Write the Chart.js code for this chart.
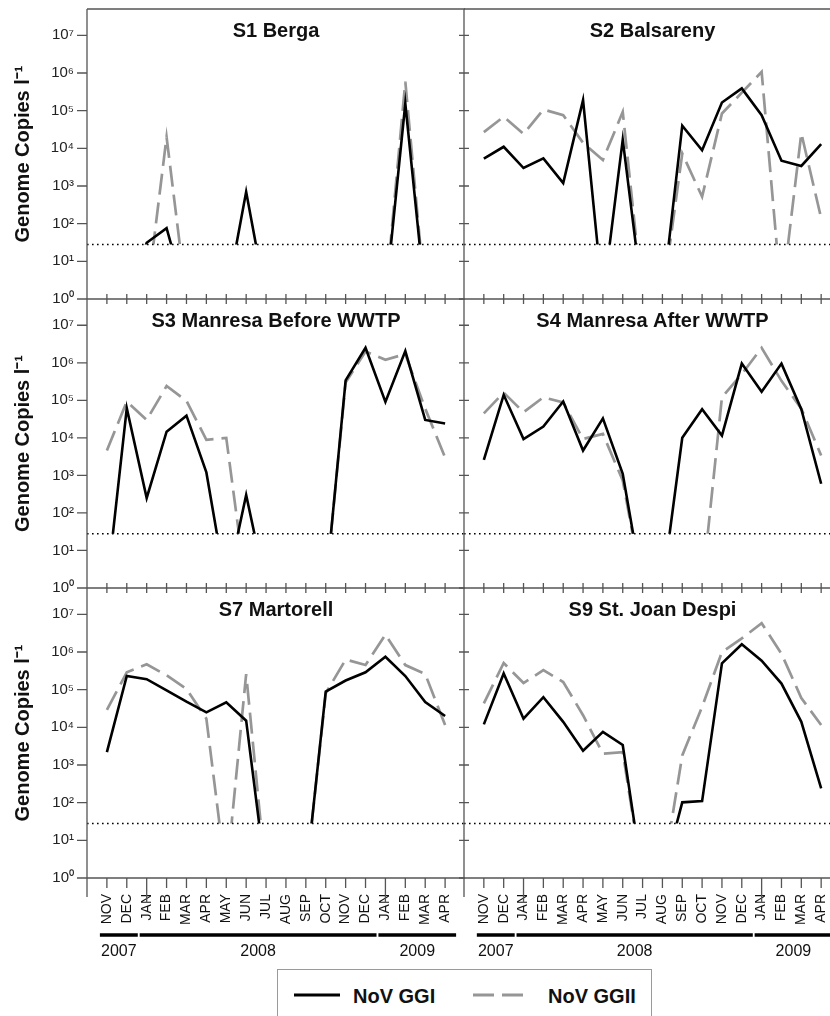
<!DOCTYPE html>
<html>
<head>
<meta charset="utf-8">
<script src="https://cdn.jsdelivr.net/npm/chart.js@4.4.0/dist/chart.umd.min.js"></script>
<style>
  html, body { margin: 0; padding: 0; background: #fff; overflow: hidden; }
  #page { position: relative; width: 830px; height: 1016px; overflow: hidden; background: #fff; }
  #page canvas { position: absolute; }
  #legend { position: absolute; left: 277px; top: 969px; width: 373px; height: 70px; border: 1px solid #9a9a9a; background: #fff; }
  #legend svg { position: absolute; left: 0; top: 0; }
  .lbl { position: absolute; top: 15px; line-height: 20px; font: bold 20px "Liberation Sans", Arial, sans-serif; color: #111; white-space: nowrap; }
</style>
</head>
<body>
<div id="page">
  <canvas id="s1"></canvas>
  <canvas id="s2"></canvas>
  <canvas id="s3"></canvas>
  <canvas id="s4"></canvas>
  <canvas id="s7"></canvas>
  <canvas id="s9"></canvas>
  <div id="legend">
    <svg width="373" height="60">
      <line x1="16" y1="25" x2="62" y2="25" stroke="#000" stroke-width="3"/>
      <line x1="195" y1="25" x2="245" y2="25" stroke="#969696" stroke-width="3" stroke-dasharray="21 8"/>
    </svg>
    <span class="lbl" style="left:75px">NoV GGI</span>
    <span class="lbl" style="left:270px">NoV GGII</span>
  </div>
</div>
<script>
const months = ['NOV', 'DEC', 'JAN', 'FEB', 'MAR', 'APR', 'MAY', 'JUN', 'JUL', 'AUG', 'SEP', 'OCT', 'NOV', 'DEC', 'JAN', 'FEB', 'MAR', 'APR'];
const monthYear = [2007, 2007, 2008, 2008, 2008, 2008, 2008, 2008, 2008, 2008, 2008, 2008, 2008, 2008, 2009, 2009, 2009, 2009];
const yTickValues = [1, 10, 100, 1e3, 1e4, 1e5, 1e6, 1e7];
const yTickLabels = ['10⁰', '10¹', '10²', '10³', '10⁴', '10⁵', '10⁶', '10⁷'];
const yMin = 1;
const yMax = 5e7;
const detectionLimit = 28;
// not detected: sits on the axis floor, hidden under the detection limit
const ND = 1;

const s1GGI  = [ND, ND, 31, 76, ND, ND, ND, 700, ND, ND, ND, ND, ND, ND, ND, 1.55e5, ND, ND];
const s1GGII = [ND, ND, ND, 2.0e4, ND, ND, ND, ND, ND, ND, ND, ND, ND, ND, ND, 5.9e5, ND, ND];
const s2GGI  = [5.3e3, 1.1e4, 3.0e3, 5.4e3, 1.2e3, 1.9e5, ND, 1.7e4, ND, ND, 4.0e4, 8.9e3, 1.65e5, 3.9e5, 7.6e4, 4.7e3, 3.4e3, 1.3e4];
const s2GGII = [2.7e4, 6.9e4, 2.4e4, 1.07e5, 7.6e4, 1.4e4, 4.9e3, 9.3e4, ND, ND, 7.3e3, 520, 8.4e4, 3.0e5, 1.07e6, ND, 2.5e4, 140];
const s3GGI  = [ND, 6.2e4, 250, 1.46e4, 3.9e4, 1.2e3, ND, 300, ND, ND, ND, ND, 3.4e5, 2.5e6, 9.1e4, 2.05e6, 3.0e4, 2.4e4];
const s3GGII = [4.6e3, 9.3e4, 3.0e4, 2.4e5, 9.7e4, 8.9e3, 1.0e4, ND, ND, ND, ND, ND, 3.0e5, 2.0e6, 1.2e6, 1.7e6, 6.0e4, 3.0e3];
const s4GGI  = [2.6e3, 1.4e5, 9.3e3, 2.0e4, 9.3e4, 4.6e3, 3.3e4, 1.1e3, ND, ND, 1.0e4, 5.8e4, 1.15e4, 9.5e5, 1.7e5, 9.5e5, 5.8e4, 600];
const s4GGII = [4.5e4, 1.6e5, 4.8e4, 1.2e5, 8.8e4, 9.3e3, 1.27e4, 730, ND, ND, ND, ND, 1.2e5, 5.0e5, 2.5e6, 3.3e5, 6.0e4, 3.4e3];
const s7GGI  = [2.2e3, 2.3e5, 1.9e5, 9.6e4, 4.8e4, 2.5e4, 4.6e4, 1.5e4, ND, ND, ND, 8.9e4, 1.75e5, 2.9e5, 7.5e5, 2.3e5, 4.7e4, 2.0e4];
const s7GGII = [2.9e4, 2.9e5, 4.7e5, 2.4e5, 1.05e5, 1.7e4, ND, 2.6e5, ND, ND, ND, 8.0e4, 6.3e5, 4.5e5, 2.9e6, 4.5e5, 2.6e5, 1.15e4];
const s9GGI  = [1.2e4, 2.7e5, 1.7e4, 6.3e4, 1.4e4, 2.4e3, 7.6e3, 3.4e3, ND, ND, 102, 110, 5.0e5, 1.6e6, 5.9e5, 1.45e5, 1.4e4, 240];
const s9GGII = [4.3e4, 5.1e5, 1.5e5, 3.3e5, 1.6e5, 2.1e4, 2.0e3, 2.2e3, ND, ND, 1.8e3, 3.5e4, 1.0e6, 2.3e6, 5.8e6, 9.0e5, 6.0e4, 1.15e4];

const panels = [
  { id: 's1', title: 'S1 Berga', ggi: s1GGI, ggii: s1GGII, col: 0, row: 0 },
  { id: 's2', title: 'S2 Balsareny', ggi: s2GGI, ggii: s2GGII, col: 1, row: 0 },
  { id: 's3', title: 'S3 Manresa Before WWTP', ggi: s3GGI, ggii: s3GGII, col: 0, row: 1 },
  { id: 's4', title: 'S4 Manresa After WWTP', ggi: s4GGI, ggii: s4GGII, col: 1, row: 1 },
  { id: 's7', title: 'S7 Martorell', ggi: s7GGI, ggii: s7GGII, col: 0, row: 2 },
  { id: 's9', title: 'S9 St. Joan Despi', ggi: s9GGI, ggii: s9GGII, col: 1, row: 2 }
];

// canvas placement; the right column runs past the page edge like the cropped original
const cols = [
  { left: 0, width: 466, axisW: 87, padR: 1 },
  { left: 454, width: 387, axisW: 10, padR: 0 }
];
const rows = [
  { top: 0, height: 309, padT: 9, axisH: 10 },
  { top: 289, height: 309, padT: 10, axisH: 10 },
  { top: 578, height: 390, padT: 10, axisH: 90 }
];

const AXIS = '#555';
const FONT = '"Liberation Sans", Arial, sans-serif';
Chart.defaults.font.family = FONT;
Chart.defaults.color = '#111';

const panelFrame = {
  id: 'panelFrame',
  beforeDatasetsDraw(chart) {
    // lines are hidden below the detection limit
    const { ctx, chartArea: a } = chart;
    const yd = chart.scales.y.getPixelForValue(detectionLimit);
    ctx.save();
    ctx.beginPath();
    ctx.rect(a.left, 0, a.right - a.left, yd);
    ctx.clip();
  },
  afterDatasetsDraw(chart, args, opts) {
    const { ctx, chartArea: a } = chart;
    const xs = chart.scales.x, ys = chart.scales.y;
    ctx.restore();
    ctx.save();

    const yd = ys.getPixelForValue(detectionLimit);
    ctx.strokeStyle = '#000';
    ctx.lineWidth = 1.6;
    ctx.setLineDash([1.6, 3.4]);
    ctx.beginPath();
    ctx.moveTo(a.left, yd);
    ctx.lineTo(a.right, yd);
    ctx.stroke();
    ctx.setLineDash([]);

    const last = opts.row === 2;
    ctx.strokeStyle = AXIS;
    ctx.lineWidth = 1.3;
    ctx.beginPath();
    ctx.moveTo(a.left, a.bottom);
    ctx.lineTo(a.right, a.bottom);
    ctx.moveTo(a.left, a.top);
    ctx.lineTo(a.left, a.bottom + (last ? 19 : 0));
    if (opts.row === 0) {
      ctx.moveTo(a.left, a.top);
      ctx.lineTo(a.right, a.top);
    }
    yTickValues.forEach(v => {
      const py = ys.getPixelForValue(v);
      if (opts.col === 0) {
        ctx.moveTo(a.left - 10, py);
        ctx.lineTo(a.left, py);
      } else {
        ctx.moveTo(a.left - 5, py);
        ctx.lineTo(a.left + 5, py);
      }
    });
    months.forEach((m, i) => {
      const px = xs.getPixelForValue(i);
      if (!last) {
        ctx.moveTo(px, a.bottom - 5);
        ctx.lineTo(px, a.bottom + 5);
      } else {
        const newYear = i > 0 && monthYear[i] !== monthYear[i - 1];
        ctx.moveTo(px, a.bottom);
        ctx.lineTo(px, a.bottom + (newYear ? 25 : 10));
      }
    });
    ctx.stroke();

    if (last) {
      const years = [...new Set(monthYear)];
      ctx.strokeStyle = '#000';
      ctx.lineWidth = 3.5;
      ctx.fillStyle = '#111';
      ctx.font = '16px ' + FONT;
      ctx.textAlign = 'center';
      ctx.textBaseline = 'middle';
      years.forEach(yr => {
        const first = monthYear.indexOf(yr);
        const lastIdx = monthYear.lastIndexOf(yr);
        const x0 = xs.getPixelForValue(first) - 7;
        const x1 = xs.getPixelForValue(lastIdx) + 11;
        ctx.beginPath();
        ctx.moveTo(x0, a.bottom + 57);
        ctx.lineTo(x1, a.bottom + 57);
        ctx.stroke();
        ctx.fillText(String(yr), (x0 + x1) / 2, a.bottom + 74);
      });
    }

    ctx.fillStyle = '#111';
    ctx.font = 'bold 20px ' + FONT;
    ctx.textAlign = 'center';
    ctx.textBaseline = 'middle';
    ctx.fillText(opts.title, (a.left + a.right) / 2, a.top + 22);
    ctx.restore();
  }
};

function makePanel(p) {
  const c = cols[p.col], r = rows[p.row];
  const canvas = document.getElementById(p.id);
  canvas.width = c.width;
  canvas.height = r.height;
  canvas.style.left = c.left + 'px';
  canvas.style.top = r.top + 'px';
  const showMonths = p.row === 2;
  const showY = p.col === 0;

  new Chart(canvas, {
    type: 'line',
    data: {
      datasets: [
        {
          label: 'NoV GGI',
          data: p.ggi.map((v, i) => ({ x: i, y: v })),
          borderColor: '#000',
          borderWidth: 2.6,
          pointRadius: 0,
          tension: 0
        },
        {
          label: 'NoV GGII',
          data: p.ggii.map((v, i) => ({ x: i, y: v })),
          borderColor: '#969696',
          borderWidth: 2.7,
          borderDash: [21, 8],
          pointRadius: 0,
          tension: 0
        }
      ]
    },
    options: {
      responsive: false,
      animation: false,
      events: [],
      layout: { padding: { top: r.padT, right: c.padR, left: 0, bottom: 0 } },
      plugins: {
        legend: { display: false },
        tooltip: { enabled: false },
        panelFrame: { title: p.title, row: p.row, col: p.col }
      },
      scales: {
        x: {
          type: 'linear',
          min: -1,
          max: months.length,
          grid: { display: false, drawTicks: false },
          border: { display: false },
          afterBuildTicks: axis => { axis.ticks = months.map((m, i) => ({ value: i })); },
          afterFit: axis => {
            axis.height = r.axisH;
            axis.paddingLeft = 0;
            axis.paddingRight = 0;
          },
          ticks: {
            display: showMonths,
            autoSkip: false,
            minRotation: 90,
            maxRotation: 90,
            padding: 16,
            color: '#111',
            font: { size: 14 },
            callback: v => months[v]
          }
        },
        y: {
          type: 'logarithmic',
          min: yMin,
          max: yMax,
          grid: { display: false, drawTicks: false },
          border: { display: false },
          afterBuildTicks: axis => { axis.ticks = yTickValues.map(v => ({ value: v })); },
          afterFit: axis => {
            axis.width = c.axisW;
            axis.paddingTop = 0;
            axis.paddingBottom = 0;
          },
          ticks: {
            display: showY,
            padding: 13,
            color: '#222',
            font: { size: 15 },
            callback: v => yTickLabels[yTickValues.indexOf(v)]
          },
          title: {
            display: showY,
            text: 'Genome Copies l⁻¹',
            color: '#111',
            font: { size: 20, weight: 'bold' },
            padding: { top: 11, bottom: 0 }
          }
        }
      }
    },
    plugins: [panelFrame]
  });
}

panels.forEach(makePanel);
</script>
</body>
</html>
